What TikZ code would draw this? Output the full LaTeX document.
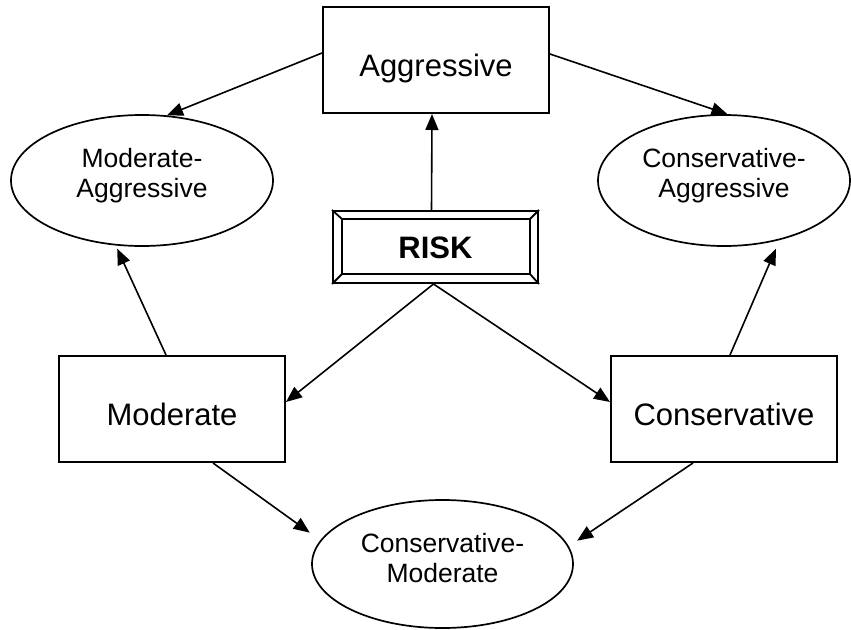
\documentclass[tikz,border=0pt]{standalone}
\usepackage{fontspec}
\setmainfont{Liberation Sans}
\usetikzlibrary{arrows.meta,shapes.geometric}
\begin{document}
\begin{tikzpicture}[x=1pt,y=-1pt,
  box/.style={draw, line width=2pt, minimum width=226pt, minimum height=106pt, inner sep=0pt,
    font=\fontsize{31}{37}\selectfont, text height=33pt, text depth=0pt},
  oval/.style={draw, ellipse, line width=1.7pt, inner sep=0pt, align=center,
    font=\fontsize{26.5}{30}\selectfont},
  arr/.style={line width=1.6pt, -{Triangle[length=16pt,width=13pt]}},
  bevel/.style={line width=1.8pt}]
\useasboundingbox (0,0) rectangle (851,629);
% boxes
\node[box] (agg) at (436,60) {Aggressive};
\node[box] (mod) at (172,409) {Moderate};
\node[box] (con) at (724,409) {Conservative};
% RISK box with bevel
\node[draw, line width=2pt, minimum width=205pt, minimum height=72pt, inner sep=0pt,
  font=\fontsize{31}{37}\selectfont\bfseries, text height=22pt, text depth=0pt] (risk) at (435.5,247) {RISK};
\draw[bevel] ([shift={(10pt,-9pt)}]risk.north west) rectangle ([shift={(-9pt,10pt)}]risk.south east);
\draw[bevel] (risk.north west) -- ([shift={(10pt,-9pt)}]risk.north west);
\draw[bevel] (risk.north east) -- ([shift={(-9pt,-9pt)}]risk.north east);
\draw[bevel] (risk.south west) -- ([shift={(10pt,10pt)}]risk.south west);
\draw[bevel] (risk.south east) -- ([shift={(-9pt,10pt)}]risk.south east);
% ellipses
\node[oval, minimum width=262pt, minimum height=131pt] (ma) at (142,180.5) {Moderate-\\Aggressive\rule[-15pt]{0pt}{1pt}};
\node[oval, minimum width=252pt, minimum height=131pt] (ca) at (724,180.5) {Conservative-\\Aggressive\rule[-15pt]{0pt}{1pt}};
\node[oval, minimum width=261pt, minimum height=128pt] (cm) at (442.5,564) {Conservative-\\Moderate\rule[-13pt]{0pt}{1pt}};
% connectors
\draw[arr] ([yshift=7pt]agg.west) -- (ma.69);
\draw[arr] ([yshift=6pt]agg.east) -- (ca.87);
\draw[arr] ([xshift=-4pt]risk.north) -- ([xshift=-4pt]agg.south);
\draw[arr] ([xshift=-2pt]risk.south) -- ([yshift=7pt]mod.east);
\draw[arr] ([xshift=-2pt]risk.south) -- ([yshift=7pt]con.west);
\draw[arr, shorten >=3.5pt] ([xshift=-6pt]mod.north) -- (ma.248);
\draw[arr, shorten >=9.5pt] ([xshift=6pt]con.north) -- (ca.313);
\draw[arr, shorten >=13pt] ([xshift=41pt]mod.south) -- (cm.169);
\draw[arr, shorten >=10pt] ([xshift=-31pt]con.south) -- (cm.8);
\end{tikzpicture}
\end{document}
